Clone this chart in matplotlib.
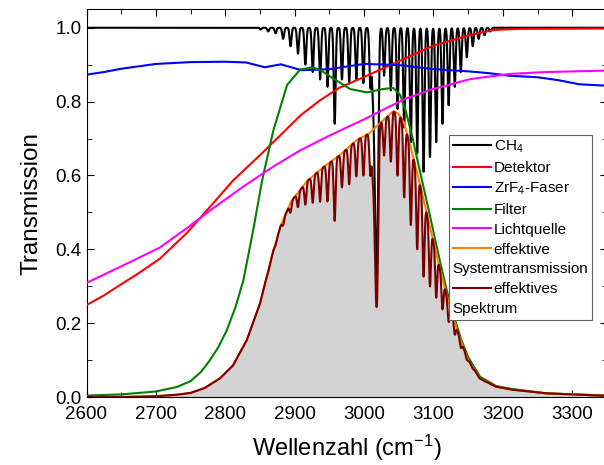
import numpy as np
import matplotlib.pyplot as plt
from matplotlib.lines import Line2D
from matplotlib.ticker import MultipleLocator

plt.rcParams['font.family'] = ['Liberation Sans', 'DejaVu Sans']
plt.rcParams['mathtext.fontset'] = 'custom'
plt.rcParams['mathtext.rm'] = 'Liberation Sans'
plt.rcParams['mathtext.it'] = 'Liberation Sans:italic'

# CH4 nu3 band lines: position (cm-1) and transmission at line centre
ch4_pos = [2851.0, 2861.8, 2872.5, 2883.3, 2894.0, 2904.7, 2915.4, 2926.0, 2936.6,
           2947.2, 2957.6, 2968.1, 2978.5, 2988.8, 2999.0, 3009.0,
           3012.5, 3015.0, 3017.0, 3018.6, 3020.2,
           3028.8, 3038.5, 3048.2, 3057.7, 3067.3, 3076.5, 3085.7, 3094.9, 3103.9,
           3112.9, 3121.8, 3130.6, 3139.3, 3147.9, 3156.5, 3165.0, 3173.5, 3181.9]
ch4_min = [0.995, 0.99, 0.985, 0.97, 0.95, 0.93, 0.90, 0.88, 0.86,
           0.84, 0.74, 0.86, 0.85, 0.86, 0.85, 0.84,
           0.85, 0.75, 0.55, 0.50, 0.80,
           0.87, 0.83, 0.78, 0.73, 0.69, 0.66, 0.61, 0.65, 0.69,
           0.74, 0.79, 0.84, 0.88, 0.92, 0.95, 0.97, 0.98, 0.99]

# smooth component curves
det_x = [2600, 2625, 2648, 2675, 2706, 2745, 2778, 2811, 2850, 2880, 2908, 2936,
         2965, 3004, 3052, 3099, 3148, 3186, 3225, 3350]
det_y = [0.249, 0.275, 0.303, 0.335, 0.375, 0.445, 0.515, 0.586, 0.655, 0.71, 0.762, 0.803,
         0.838, 0.870, 0.911, 0.951, 0.978, 0.994, 0.997, 0.998]

fib_x = [2600, 2625, 2650, 2700, 2750, 2800, 2830, 2857, 2880, 2910, 2950, 3000,
         3050, 3100, 3150, 3180, 3210, 3250, 3280, 3310, 3350]
fib_y = [0.873, 0.88, 0.889, 0.902, 0.907, 0.908, 0.906, 0.893, 0.901, 0.885, 0.888, 0.902,
         0.899, 0.888, 0.882, 0.877, 0.870, 0.866, 0.858, 0.847, 0.843]

flt_x = [2600, 2650, 2700, 2730, 2750, 2765, 2778, 2790, 2802, 2815, 2826, 2840, 2853,
         2869, 2889, 2908, 2926, 2940, 2956, 2980, 3004, 3027, 3042, 3052, 3060, 3070,
         3080, 3095, 3109, 3119, 3130, 3140, 3150, 3167, 3190, 3212, 3262, 3350]
flt_y = [0.004, 0.007, 0.015, 0.027, 0.043, 0.068, 0.10, 0.135, 0.18, 0.245, 0.316, 0.45,
         0.586, 0.72, 0.845, 0.887, 0.893, 0.882, 0.862, 0.834, 0.825, 0.834, 0.837, 0.818,
         0.775, 0.70, 0.615, 0.49, 0.37, 0.29, 0.215, 0.155, 0.108, 0.055, 0.03, 0.022, 0.01,
         0.004]

src_x = [2600, 2648, 2706, 2745, 2778, 2826, 2870, 2908, 2950, 3000, 3037, 3060,
         3095, 3153, 3210, 3260, 3350]
src_y = [0.309, 0.352, 0.405, 0.458, 0.505, 0.57, 0.625, 0.668, 0.708, 0.752, 0.787, 0.808,
         0.832, 0.861, 0.875, 0.88, 0.884]

sys_x = [2600, 2650, 2700, 2730, 2750, 2770, 2792, 2811, 2831, 2850, 2869, 2880, 2895,
         2918, 2941, 2965, 2989, 3008, 3023, 3035, 3042, 3049, 3057, 3066, 3080, 3095,
         3109, 3119, 3130, 3140, 3150, 3167, 3190, 3212, 3262, 3350]
sys_y = [0.0, 0.0, 0.002, 0.006, 0.011, 0.024, 0.05, 0.085, 0.154, 0.254, 0.395, 0.465, 0.53,
         0.585, 0.622, 0.655, 0.695, 0.715, 0.742, 0.762, 0.774, 0.768, 0.745, 0.685, 0.58, 0.46,
         0.35, 0.275, 0.205, 0.148, 0.10, 0.05, 0.028, 0.02, 0.01, 0.003]

# build spectra on a fine grid
wn = np.linspace(2600, 3350, 7501)
hw = 1.6
ch4 = np.ones_like(wn)
for p, t in zip(ch4_pos, ch4_min):
    ch4 *= 1 - (1 - t) * np.exp(-np.log(2) * ((wn - p) / hw) ** 2)
spec = np.interp(wn, sys_x, sys_y) * ch4

fig = plt.figure(figsize=(6.04, 4.65), dpi=100)
ax = fig.add_axes([86.5 / 604, 68 / 465, 520.5 / 604, 387.7 / 465])

ax.plot(wn, ch4, color='black', lw=1.5, zorder=2)
ax.fill_between(wn, 0, spec, color='#d3d3d3', lw=0, zorder=2.5)
ax.plot(det_x, det_y, color='#ff0000', lw=1.5, zorder=3)
ax.plot(fib_x, fib_y, color='#0000ff', lw=1.5, zorder=3)
ax.plot(flt_x, flt_y, color='#008000', lw=1.5, zorder=3)
ax.plot(src_x, src_y, color='#ff00ff', lw=1.5, zorder=3)
ax.plot(sys_x, sys_y, color='#ff8000', lw=1.5, zorder=3)
ax.plot(wn, spec, color='#7b0000', lw=1.5, zorder=3.5)

ax.set_xlim(2600, 3350)
ax.set_ylim(0, 1.05)
ax.xaxis.set_major_locator(MultipleLocator(100))
ax.xaxis.set_minor_locator(MultipleLocator(50))
ax.yaxis.set_major_locator(MultipleLocator(0.2))
ax.yaxis.set_minor_locator(MultipleLocator(0.1))
ax.yaxis.set_major_formatter(plt.FormatStrFormatter('%.1f'))
ax.tick_params(which='both', direction='in', top=True, right=True, labelsize=13.5)
ax.tick_params(which='major', length=5)
ax.tick_params(which='minor', length=3.5)
ax.tick_params(axis='x', pad=6.5)
ax.set_xlabel('Wellenzahl (cm$^{-1}$)', fontsize=17, labelpad=7)
ax.set_ylabel('Transmission', fontsize=17.5, labelpad=9)

handles = [Line2D([], [], color=c, lw=1.5) for c in
           ['black', '#ff0000', '#0000ff', '#008000', '#ff00ff', '#ff8000']]
handles.append(Line2D([], [], color='none'))
handles.append(Line2D([], [], color='#7b0000', lw=1.5))
handles.append(Line2D([], [], color='none'))
labels = ['CH$_4$', 'Detektor', 'ZrF$_4$-Faser', 'Filter', 'Lichtquelle', 'effektive',
          'Systemtransmission', 'effektives', 'Spektrum']
leg = ax.legend(handles, labels, loc='upper left', bbox_to_anchor=(0.696, 0.676),
                borderaxespad=0, fontsize=11, handlelength=2.5, handletextpad=0.2,
                labelspacing=0.38, borderpad=0.25, fancybox=False, framealpha=1,
                edgecolor='#606060')
leg.get_frame().set_linewidth(0.8)
items = leg._legend_handle_box.get_children()[0].get_children()
for i in (6, 8):
    items[i].sep = 0
    items[i].get_children()[0].width = 0

fig.savefig('out.png', dpi=100)
